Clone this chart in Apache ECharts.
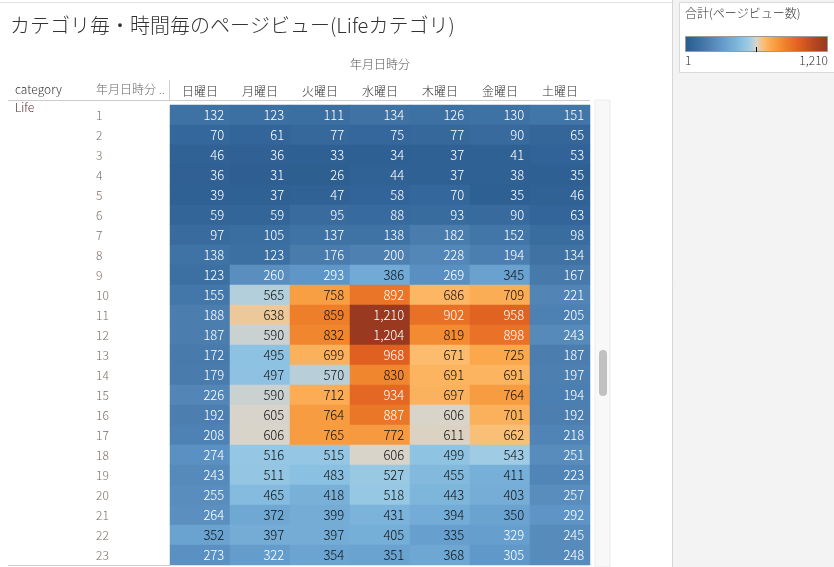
<!DOCTYPE html>
<html>
<head>
<meta charset="utf-8">
<script src="https://cdn.jsdelivr.net/npm/echarts@6/dist/echarts.min.js"></script>
<style>
html,body{margin:0;padding:0;background:#fff;}
#c{width:834px;height:567px;}
</style>
</head>
<body>
<div id="c"></div>
<script>
// ---- data ----
const days = ['日曜日','月曜日','火曜日','水曜日','木曜日','金曜日','土曜日'];
const hours = ['1','2','3','4','5','6','7','8','9','10','11','12','13','14','15','16','17','18','19','20','21','22','23'];
const sun = [132,70,46,36,39,59,97,138,123,155,188,187,172,179,226,192,208,274,243,255,264,352,273];
const mon = [123,61,36,31,37,59,105,123,260,565,638,590,495,497,590,605,606,516,511,465,372,397,322];
const tue = [111,77,33,26,47,95,137,176,293,758,859,832,699,570,712,764,765,515,483,418,399,397,354];
const wed = [134,75,34,44,58,88,138,200,386,892,1210,1204,968,830,934,887,772,606,527,518,431,405,351];
const thu = [126,77,37,37,70,93,182,228,269,686,902,819,671,691,697,606,611,499,455,443,394,335,368];
const fri = [130,90,41,38,35,90,152,194,345,709,958,898,725,691,764,701,662,543,411,403,350,329,305];
const sat = [151,65,53,35,46,63,98,134,167,221,205,243,187,197,194,192,218,251,223,257,292,245,248];
const dayValues = [sun, mon, tue, wed, thu, fri, sat];
const valueMin = 1, valueMax = 1210;
const colorStops = ['#2b5a8b','#33659a','#3d70a2','#4a7cae','#568abb','#6098c9','#6da6d2','#79b1d9','#8ac0e1','#a0cce4','#d9d4cb','#fcbd70','#fba74c','#f6953a','#ee822b','#e86f27','#df6020','#cc5320','#b84820','#a73f20','#983920'];

// ---- build ----
const data = [];
dayValues.forEach((arr, x) => {
  arr.forEach((v, y) => {
    const dark = (v < 333 || v >= 880);
    data.push({ value: [x, y, v], label: { color: dark ? '#ffffff' : '#111111' } });
  });
});

const FONT = '"Noto Sans CJK JP", "Noto Sans", sans-serif';
const chart = echarts.init(document.getElementById('c'), null, { renderer: 'canvas' });

const gradStops = colorStops.map((c, i) => ({ offset: i / (colorStops.length - 1), color: c }));

chart.setOption({
  animation: false,
  backgroundColor: '#ffffff',
  textStyle: { fontFamily: FONT },
  grid: { left: 170, top: 105, width: 420, height: 460, containLabel: false },
  xAxis: {
    type: 'category', data: days, position: 'top',
    axisLine: { show: false }, axisTick: { show: false }, splitLine: { show: false },
    axisLabel: { color: '#333', fontSize: 12, fontWeight: 300, margin: 8, fontFamily: FONT },
    name: '年月日時分', nameLocation: 'middle', nameGap: 35,
    nameTextStyle: { color: '#555', fontSize: 12, fontWeight: 300, fontFamily: FONT }
  },
  yAxis: {
    type: 'category', data: hours, inverse: true,
    axisLine: { show: false }, axisTick: { show: false }, splitLine: { show: false },
    axisLabel: { color: '#7a6e66', fontSize: 12, fontWeight: 300, align: 'left', margin: 74, fontFamily: FONT }
  },
  visualMap: {
    show: false, type: 'continuous', min: valueMin, max: valueMax, dimension: 2,
    inRange: { color: colorStops }
  },
  series: [{
    type: 'heatmap',
    data: data,
    itemStyle: { borderWidth: 0 },
    label: {
      show: true, position: 'insideRight', distance: 6,
      fontSize: 13, fontWeight: 300, fontFamily: FONT,
      formatter: p => p.value[2].toLocaleString('en-US')
    },
    emphasis: { disabled: true }
  }],
  graphic: [
    { type: 'line', shape: { x1: 0, y1: 2.5, x2: 672, y2: 2.5 }, style: { stroke: '#e2e2e2', lineWidth: 1 } },
    { type: 'text', left: 10, top: 15, style: { text: 'カテゴリ毎・時間毎のページビュー(Lifeカテゴリ)', fill: '#333', fontSize: 20, fontWeight: 300, fontFamily: FONT } },
    { type: 'text', left: 15, top: 83, style: { text: 'category', fill: '#333', fontSize: 12, fontWeight: 300, fontFamily: FONT } },
    { type: 'text', left: 96, top: 83, style: { text: '年月日時分 ..', fill: '#666', fontSize: 12, fontWeight: 300, fontFamily: FONT } },
    { type: 'line', shape: { x1: 8, y1: 100.5, x2: 590, y2: 100.5 }, style: { stroke: '#cccccc', lineWidth: 1 } },
    { type: 'line', shape: { x1: 169.5, y1: 80, x2: 169.5, y2: 100 }, style: { stroke: '#cccccc', lineWidth: 1 } },
    { type: 'line', shape: { x1: 8, y1: 565.5, x2: 170, y2: 565.5 }, style: { stroke: '#cccccc', lineWidth: 1 } },
    { type: 'text', left: 15, top: 101, style: { text: 'Life', fill: '#5a2a2a', fontSize: 12, fontWeight: 300, fontFamily: FONT } },
    // scrollbar
    { type: 'rect', shape: { x: 595, y: 100, width: 15, height: 467 }, style: { fill: '#f8f8f8', stroke: '#ececec', lineWidth: 1 } },
    { type: 'rect', shape: { x: 599, y: 350, width: 8, height: 46, r: 4 }, style: { fill: '#c1c1c1' } },
    // right panel
    { type: 'rect', shape: { x: 672, y: 0, width: 162, height: 567 }, style: { fill: '#f3f3f3' } },
    { type: 'line', shape: { x1: 672.5, y1: 0, x2: 672.5, y2: 567 }, style: { stroke: '#d6d6d6', lineWidth: 1 } },
    { type: 'rect', shape: { x: 679.5, y: 2.5, width: 160, height: 70 }, style: { fill: '#ffffff', stroke: '#d9d9d9', lineWidth: 1 } },
    { type: 'text', left: 685, top: 7, style: { text: '合計(ページビュー数)', fill: '#333', fontSize: 12, fontWeight: 300, fontFamily: FONT } },
    { type: 'rect', shape: { x: 685.5, y: 36.5, width: 142, height: 15 },
      style: { fill: new echarts.graphic.LinearGradient(0, 0, 1, 0, gradStops), stroke: '#9a9a9a', lineWidth: 1 } },
    { type: 'line', shape: { x1: 756.5, y1: 47, x2: 756.5, y2: 52 }, style: { stroke: '#000', lineWidth: 1 } },
    { type: 'text', left: 685, top: 54, style: { text: String(valueMin), fill: '#333', fontSize: 12, fontWeight: 300, fontFamily: FONT } },
    { type: 'text', right: 6, top: 54, style: { text: valueMax.toLocaleString('en-US'), fill: '#333', fontSize: 12, fontWeight: 300, fontFamily: FONT } }
  ]
});
</script>
</body>
</html>
